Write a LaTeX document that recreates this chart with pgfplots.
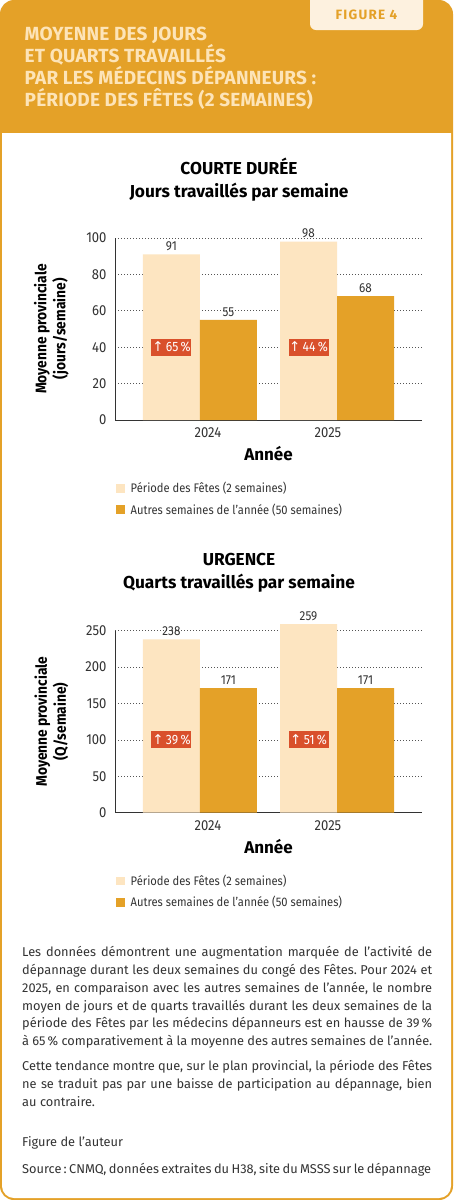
\documentclass[border=0pt]{standalone}
\usepackage{pgfplots}
\pgfplotsset{compat=1.18}
\usepackage{fontspec}
\setmainfont{Fira Sans}
\newfontfamily\narrowfont[FakeStretch=0.9, Numbers=Proportional]{Fira Sans}
\newfontfamily\symfont{DejaVu Sans}
\definecolor{orangeM}{HTML}{E4A128}
\definecolor{creamL}{HTML}{FDE5C1}
\definecolor{creamT}{HTML}{FDE4B8}
\definecolor{tabC}{HTML}{FDF1DF}
\definecolor{badgeC}{HTML}{D9502B}
\definecolor{txt}{HTML}{333333}
\definecolor{gridc}{HTML}{555555}

\tikzset{badge/.style={fill=badgeC, text=white, minimum width=40pt, minimum height=17pt, inner sep=0pt, font=\narrowfont\fontsize{13.5}{14}\selectfont}}
\pgfplotsset{
  layers/mylayers/.define layer set={axis background,axis grid,main,axis ticks,axis lines,axis tick labels,axis descriptions,axis foreground}{},
  legimg/.style={legend image code/.code={\fill[##1] (0pt,-4.3pt) rectangle (8.6pt,4.3pt);}},
  cnmq/.style={
    set layers=mylayers,
    scale only axis, width=307pt, height=182pt, anchor=south west,
    xmin=-0.62, xmax=1.62, ymin=0,
    ybar=0pt, bar width=57pt, clip=false,
    axis x line=bottom, axis y line=left,
    axis line style={-, draw=txt, line width=1pt},
    major tick length=0pt,
    xtick={0.058,0.934}, xticklabels={2024,2025},
    ymajorgrids, grid style={draw=gridc, line width=0.8pt, dash pattern=on 0.8pt off 2.2pt},
    ticklabel style={font=\narrowfont\fontsize{14.5}{16}\selectfont, text=txt},
    /pgf/number format/assume math mode=true,
    xticklabel style={yshift=-4pt},
    yticklabel style={xshift=-5pt},
    xlabel={Année},
    xlabel style={font=\bfseries\fontsize{17}{19}\selectfont, text=black, at={(axis description cs:0.5,-0.187)}, anchor=center},
    ylabel style={font=\narrowfont\bfseries\fontsize{15.3}{19}\selectfont, text=black, at={(axis description cs:-0.2075,0.5)}, anchor=center, align=center},
    every axis title shift=0pt,
    title style={font=\bfseries\fontsize{17.3}{23}\selectfont, text=black, anchor=center, align=center},
    nodes near coords,
    every node near coord/.append style={font=\narrowfont\fontsize{13}{14}\selectfont, text=txt, yshift=0pt},
    legend style={draw=none, fill=none, inner sep=0pt, anchor=north west, font=\narrowfont\fontsize{12.4}{14}\selectfont, text=txt, row sep=5.5pt, cells={anchor=west}, /tikz/every odd column/.append style={column sep=4pt}},
    legend cell align=left,
  },
}

\begin{document}
\frenchspacing
\begin{tikzpicture}
\fill[white] (0pt,0pt) rectangle (453pt,-1200pt);
% frame
\fill[orangeM, rounded corners=14pt] (0pt,0pt) rectangle (453pt,-1200pt);
\fill[white] (2pt,-133pt) -- (451pt,-133pt) -- (451pt,-1186pt) arc[start angle=0,end angle=-90,radius=12pt] -- (14pt,-1198pt) arc[start angle=270,end angle=180,radius=12pt] -- cycle;
% tab
\fill[tabC] (310pt,0pt) -- (310pt,-24pt) arc[start angle=180,end angle=270,radius=6pt] -- (417pt,-30pt) arc[start angle=270,end angle=360,radius=6pt] -- (423pt,0pt) -- cycle;
\node[text=orangeM, font=\bfseries\fontsize{13.5}{15}\selectfont\addfontfeatures{LetterSpace=9}] at (366.5pt,-15pt) {FIGURE 4};
% header title
\node[anchor=north west, inner sep=0pt, align=left, text=creamT, font=\bfseries\fontsize{19}{22}\selectfont\addfontfeatures{LetterSpace=1}] at (24.5pt,-27pt)
 {MOYENNE DES JOURS\\ET QUARTS TRAVAILLÉS\\PAR LES MÉDECINS DÉPANNEURS :\\PÉRIODE DES FÊTES (2 SEMAINES)};

% chart 1
\begin{axis}[cnmq, at={(115pt,-420pt)}, ymax=100, ytick={0,20,...,100},
  title={COURTE DURÉE\\Jours travaillés par semaine},
  title style={at={(axis description cs:0.404,1.3214)}},
  ylabel={Moyenne provinciale\\(jours/semaine)},
  legend style={at={(axis description cs:0.003,-0.33)}}]
\addplot[fill=creamL, draw=none, legimg] coordinates {(0,91) (1,98)};
\addplot[fill=orangeM, draw=none, legimg] coordinates {(0,55) (1,68)};
\addlegendentry{Période des Fêtes (2 semaines)}
\addlegendentry{Autres semaines de l’année (50 semaines)}
\node[badge] at (axis cs:-0.208,40) {{\symfont ↑}\,65\,\%};
\node[badge] at (axis cs:0.792,40) {{\symfont ↑}\,44\,\%};
\end{axis}

% chart 2
\begin{axis}[cnmq, at={(115pt,-812.7pt)}, ymax=250, ytick={0,50,...,250},
  title={URGENCE\\Quarts travaillés par semaine},
  title style={at={(axis description cs:0.404,1.317)}},
  ylabel={Moyenne provinciale\\(Q/semaine)},
  legend style={at={(axis description cs:0.003,-0.33)}}]
\addplot[fill=creamL, draw=none, legimg] coordinates {(0,238) (1,259)};
\addplot[fill=orangeM, draw=none, legimg] coordinates {(0,171) (1,171)};
\addlegendentry{Période des Fêtes (2 semaines)}
\addlegendentry{Autres semaines de l’année (50 semaines)}
\node[badge] at (axis cs:-0.208,100) {{\symfont ↑}\,39\,\%};
\node[badge] at (axis cs:0.792,100) {{\symfont ↑}\,51\,\%};
\end{axis}

% body text
\begin{scope}[every node/.style={anchor=base west, inner sep=0pt, text=txt, font=\fontsize{12.8}{17.8}\selectfont}]
\node at (22pt,-956.7pt) {\makebox[410pt][s]{Les données démontrent une augmentation marquée de l’activité de}};
\node at (22pt,-974.5pt) {\makebox[410pt][s]{dépannage durant les deux semaines du congé des Fêtes. Pour 2024 et}};
\node at (22pt,-992.3pt) {\makebox[410pt][s]{2025, en comparaison avec les autres semaines de l’année, le nombre}};
\node at (22pt,-1010.1pt) {\makebox[410pt][s]{moyen de jours et de quarts travaillés durant les deux semaines de la}};
\node at (22pt,-1027.9pt) {\makebox[410pt][s]{période des Fêtes par les médecins dépanneurs est en hausse de 39\,\%}};
\node at (22pt,-1045.7pt) {\makebox[410pt][s]{à 65\,\% comparativement à la moyenne des autres semaines de l’année.}};
\node at (22pt,-1070.7pt) {\makebox[410pt][s]{Cette tendance montre que, sur le plan provincial, la période des Fêtes}};
\node at (22pt,-1088.5pt) {\makebox[410pt][s]{ne se traduit pas par une baisse de participation au dépannage, bien}};
\node at (22pt,-1106.3pt) {au contraire.};
\node at (22pt,-1146.5pt) {Figure de l’auteur};
\node at (22pt,-1173pt) {\makebox[409pt][s]{Source\,: CNMQ, données extraites du H38, site du MSSS sur le dépannage}};
\end{scope}
\end{tikzpicture}
\end{document}
